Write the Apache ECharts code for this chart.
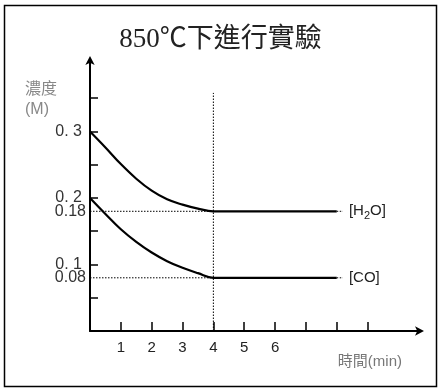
<!DOCTYPE html>
<html><head><meta charset="utf-8">
<script src="https://cdn.jsdelivr.net/npm/echarts@6/dist/echarts.min.js"></script>
<style>html,body{margin:0;padding:0;background:#fff}#c{width:441px;height:391px}</style>
</head><body><div id="c"></div>
<script>
const timeH2O = [0, 0.5, 1, 1.5, 2, 2.5, 3, 3.5, 4, 5, 6, 7, 8];
const valH2O  = [0.3, 0.276, 0.251, 0.229, 0.211, 0.198, 0.19, 0.184, 0.18, 0.18, 0.18, 0.18, 0.18];
const timeCO  = [0, 0.5, 1, 1.5, 2, 2.5, 3, 3.5, 4, 5, 6, 7, 8];
const valCO   = [0.2, 0.176, 0.153, 0.134, 0.118, 0.105, 0.095, 0.087, 0.08, 0.08, 0.08, 0.08, 0.08];
const xTickValues = [1, 2, 3, 4, 5, 6, 7, 8, 9];
const xLabelValues = [1, 2, 3, 4, 5, 6];
const yTickValues = [0.05, 0.1, 0.15, 0.2, 0.25, 0.3, 0.35];
const yMainLabels = [0.1, 0.2, 0.3];
const yMainText = ['0. 1', '0. 2', '0. 3'];
const yEqLabels = [0.08, 0.18];
const yEqText = ['0.08', '0.18'];
const eqTime = 4, endTime = 8, tailTime = 8.2;
const eqH2O = 0.18, eqCO = 0.08;
const yMin = 0, yMax = 0.4075, xMin = 0, xMax = 10.7;

const chart = echarts.init(document.getElementById('c'));
const pair = (t, v) => t.map((x, i) => [x, v[i]]);
const pick = (vals, texts) => v => { const i = vals.findIndex(u => Math.abs(u - v) < 1e-6); return i < 0 ? '' : texts[i]; };
const dotted = {color: '#000', width: 1, type: [1.5, 1.5]};
const sans = '"Liberation Sans", Arial, sans-serif';
chart.setOption({
  animation: false,
  textStyle: {fontFamily: sans},
  title: {text: '850℃下進行實驗', left: 'center', top: 21,
    textStyle: {fontFamily: '"Liberation Serif", "Noto Sans CJK TC", serif', fontSize: 27, fontWeight: 'normal', color: '#222'}},
  graphic: [{type: 'rect', shape: {x: 4.5, y: 5.5, width: 432, height: 381},
    style: {fill: 'none', stroke: '#000', lineWidth: 1.5}}],
  grid: {left: 90, right: 21, top: 60, bottom: 60},
  xAxis: {type: 'value', min: xMin, max: xMax,
    name: '時間(min)', nameLocation: 'end', nameGap: 0,
    nameTextStyle: {color: '#777', fontSize: 15, fontFamily: sans + ', "Noto Sans CJK TC"', align: 'right', verticalAlign: 'top', padding: [23, 18, 0, 0]},
    axisLine: {lineStyle: {color: '#000', width: 2}, symbol: ['none', 'arrow'], symbolSize: [7, 9], symbolOffset: [0, 4]},
    axisTick: {inside: true, length: 9, lineStyle: {color: '#000', width: 1.5}, customValues: xTickValues},
    axisLabel: {customValues: xLabelValues, color: '#222', fontSize: 15, margin: 9, fontFamily: sans},
    splitLine: {show: false}},
  yAxis: [
    {type: 'value', min: yMin, max: yMax,
      name: '濃度\n(M)', nameLocation: 'end', nameGap: 0,
      nameTextStyle: {color: '#888', fontSize: 16, fontFamily: sans + ', "Noto Sans CJK TC"', align: 'left', lineHeight: 20, padding: [0, 0, -60, -65]},
      axisLine: {lineStyle: {color: '#000', width: 2}, symbol: ['none', 'arrow'], symbolSize: [7, 9], symbolOffset: [0, 4]},
      axisTick: {inside: true, length: 8, lineStyle: {color: '#000', width: 1.5}, customValues: yTickValues},
      axisLabel: {customValues: yMainLabels, color: '#333', fontSize: 16, margin: 8, fontFamily: sans, formatter: pick(yMainLabels, yMainText), padding: [0, 0, 1, 0]},
      splitLine: {show: false}},
    {type: 'value', min: yMin, max: yMax, position: 'left',
      axisLine: {show: false}, axisTick: {show: false},
      axisLabel: {customValues: yEqLabels, color: '#333', fontSize: 16, margin: 4, fontFamily: sans, formatter: pick(yEqLabels, yEqText)},
      splitLine: {show: false}}
  ],
  series: [
    {type: 'line', data: pair(timeH2O, valH2O), smooth: 0.4, showSymbol: false, lineStyle: {color: '#000', width: 2.2}, z: 5},
    {type: 'line', data: pair(timeCO, valCO), smooth: 0.4, showSymbol: false, lineStyle: {color: '#000', width: 2.2}, z: 5},
    {type: 'line', data: [[0, eqH2O], [eqTime, eqH2O]], showSymbol: false, lineStyle: dotted},
    {type: 'line', data: [[0, eqCO], [eqTime, eqCO]], showSymbol: false, lineStyle: dotted},
    {type: 'line', data: [[eqTime, 0], [eqTime, 0.358]], showSymbol: false, lineStyle: dotted},
    {type: 'line', data: [[endTime, eqH2O], [tailTime, eqH2O]], showSymbol: false, lineStyle: dotted,
      endLabel: {show: true, distance: 6, formatter: '{a|[H}{s|2}{a|O]}',
        rich: {a: {fontSize: 15, color: '#222', fontFamily: sans}, s: {fontSize: 11, color: '#222', padding: [9, 0, 0, 0], fontFamily: sans}}}},
    {type: 'line', data: [[endTime, eqCO], [tailTime, eqCO]], showSymbol: false, lineStyle: dotted,
      endLabel: {show: true, distance: 6, formatter: '[CO]', fontSize: 15, color: '#222', fontFamily: sans}}
  ]
});
</script></body></html>
